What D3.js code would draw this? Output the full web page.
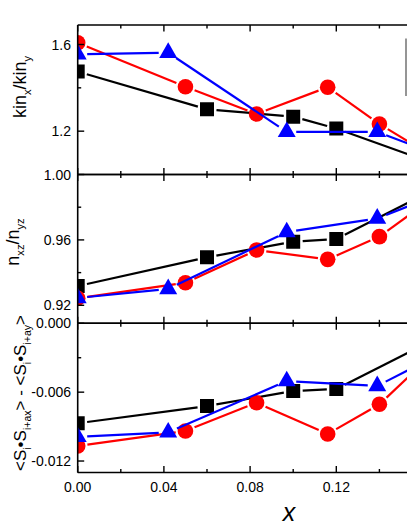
<!DOCTYPE html>
<html>
<head>
<meta charset="utf-8">
<script src="https://cdn.jsdelivr.net/npm/d3@7"></script>
<style>
  html, body { margin: 0; padding: 0; background: #fff; }
  svg { display: block; }
  text { font-family: "Liberation Sans", Arial, sans-serif; fill: #000; }
</style>
</head>
<body>
<svg id="chart" width="407" height="527"></svg>
<script>
// ---------------- data ----------------
const xBlack = [0, 0.06, 0.10, 0.12, 0.16];
const xRed   = [0, 0.05, 0.083, 0.116, 0.14, 0.16];
const xBlue  = [0, 0.042, 0.097, 0.139, 0.16];

const kinBlack = [1.475, 1.301, 1.267, 1.212, 1.070];
const kinRed   = [1.608, 1.405, 1.279, 1.403, 1.233, 1.113];
const kinBlue  = [1.555, 1.562, 1.197, 1.197, 1.118];

const nBlack = [0.9318, 0.9494, 0.9589, 0.9606, 0.9872];
const nRed   = [0.9243, 0.9338, 0.9538, 0.9481, 0.9620, 0.9811];
const nBlue  = [0.9245, 0.9300, 0.9648, 0.9731, 0.9840];

const sBlack = [-0.00871, -0.00721, -0.00590, -0.00572, -0.00193];
const sRed   = [-0.01069, -0.00938, -0.00692, -0.00965, -0.00706, -0.00351];
const sBlue  = [-0.00990, -0.00950, -0.00503, -0.00546, -0.00344];

const xTickMajor = [0, 0.04, 0.08, 0.12];
const xTickMinor = [0.02, 0.06, 0.10, 0.14];
const xTickLabels = ["0.00", "0.04", "0.08", "0.12"];

const kinTickMajor = [1.2, 1.6];
const kinTickMinor = [1.4];
const kinTickLabels = ["1.2", "1.6"];
const nTickMajor = [0.92, 0.96, 1.00];
const nTickMinor = [0.94, 0.98];
const nTickLabels = ["0.92", "0.96", "1.00"];
const sTickMajor = [-0.012, -0.006, 0.000];
const sTickMinor = [-0.009, -0.003];
const sTickLabels = ["-0.012", "-0.006", "0.000"];

// ---------------- layout ----------------
const svg = d3.select("#chart");
const left = 77.7;
const x = d3.scaleLinear().domain([0, 0.2]).range([left, left + 431]);
const rightClip = 420;

const panels = [
  { id: "kin", y0: 25, y1: 174.5, domain: [1.0, 1.69],
    series: [kinBlack, kinRed, kinBlue],
    major: kinTickMajor, minor: kinTickMinor, labels: kinTickLabels },
  { id: "n", y0: 174.5, y1: 323.3, domain: [0.909, 1.0],
    series: [nBlack, nRed, nBlue],
    major: nTickMajor, minor: nTickMinor, labels: nTickLabels },
  { id: "s", y0: 323.3, y1: 472.5, domain: [-0.013, 0],
    series: [sBlack, sRed, sBlue],
    major: sTickMajor, minor: sTickMinor, labels: sTickLabels }
];

const xs = [xBlack, xRed, xBlue];
const colors = ["#000000", "#ff0000", "#0000ff"];
const shapes = [
  { sym: d3.symbolSquare, size: 196, gap: 9.5 },
  { sym: d3.symbolCircle, size: 191, gap: 9.8 },
  { sym: d3.symbolTriangle, size: 140, gap: 9.5 }
];

const defs = svg.append("defs");

panels.forEach((p, pi) => {
  const y = d3.scaleLinear().domain(p.domain).range([p.y1, p.y0]);
  defs.append("clipPath").attr("id", "clip" + pi)
    .append("rect")
    .attr("x", left).attr("y", p.y0)
    .attr("width", rightClip - left).attr("height", p.y1 - p.y0);

  const g = svg.append("g").attr("clip-path", "url(#clip" + pi + ")");

  p.series.forEach((vals, si) => {
    const pts = vals.map((v, i) => [x(xs[si][i]), y(v)]);
    const sg = g.append("g");
    const gap = shapes[si].gap;
    for (let i = 0; i < pts.length - 1; i++) {
      const [ax, ay] = pts[i], [bx, by] = pts[i + 1];
      const dx = bx - ax, dy = by - ay, len = Math.hypot(dx, dy);
      if (len <= 2 * gap) continue;
      const ux = dx / len, uy = dy / len;
      sg.append("line")
        .attr("x1", ax + ux * gap).attr("y1", ay + uy * gap)
        .attr("x2", bx - ux * gap).attr("y2", by - uy * gap)
        .attr("stroke", colors[si]).attr("stroke-width", 2.2);
    }
    sg.selectAll("path.m").data(pts).enter().append("path")
      .attr("class", "m")
      .attr("transform", d => `translate(${d[0]},${d[1]})`)
      .attr("d", d3.symbol().type(shapes[si].sym).size(shapes[si].size))
      .attr("fill", colors[si]);
  });

  const ax = svg.append("g").attr("stroke", "#000").attr("stroke-width", 1.6).attr("fill", "none");
  ax.append("line").attr("x1", left).attr("x2", rightClip).attr("y1", p.y0).attr("y2", p.y0);
  ax.append("line").attr("x1", left).attr("x2", rightClip).attr("y1", p.y1).attr("y2", p.y1);
  ax.append("line").attr("x1", left).attr("x2", left).attr("y1", p.y0).attr("y2", p.y1);

  const tk = svg.append("g").attr("stroke", "#000").attr("stroke-width", 1.4);
  xTickMajor.forEach(t => {
    tk.append("line").attr("x1", x(t)).attr("x2", x(t)).attr("y1", p.y1).attr("y2", p.y1 - 6.5);
    tk.append("line").attr("x1", x(t)).attr("x2", x(t)).attr("y1", p.y0).attr("y2", p.y0 + 6.5);
  });
  xTickMinor.forEach(t => {
    tk.append("line").attr("x1", x(t)).attr("x2", x(t)).attr("y1", p.y1).attr("y2", p.y1 - 3.5);
    tk.append("line").attr("x1", x(t)).attr("x2", x(t)).attr("y1", p.y0).attr("y2", p.y0 + 3.5);
  });
  p.major.forEach(t => {
    tk.append("line").attr("x1", left).attr("x2", left + 6.5).attr("y1", y(t)).attr("y2", y(t));
  });
  p.minor.forEach(t => {
    tk.append("line").attr("x1", left).attr("x2", left + 3.5).attr("y1", y(t)).attr("y2", y(t));
  });
  p.major.forEach((t, i) => {
    svg.append("text").attr("x", 71).attr("y", y(t)).attr("dy", "0.36em")
      .attr("text-anchor", "end").attr("font-size", 14).text(p.labels[i]);
  });
});

xTickMajor.forEach((t, i) => {
  svg.append("text").attr("x", x(t)).attr("y", 491.5)
    .attr("text-anchor", "middle").attr("font-size", 14).text(xTickLabels[i]);
});

svg.append("text").attr("x", 289).attr("y", 521)
  .attr("text-anchor", "middle").attr("font-size", 25).attr("font-style", "italic")
  .text("x");

svg.append("line").attr("x1", 406).attr("x2", 406).attr("y1", 38.5).attr("y2", 96)
  .attr("stroke", "#8a8a8a").attr("stroke-width", 1.8);

function yLabel(cx, cy, size, parts) {
  const t = svg.append("text")
    .attr("transform", `translate(${cx},${cy}) rotate(-90)`)
    .attr("text-anchor", "middle").attr("font-size", size);
  let shifted = false;
  parts.forEach(([s, sub]) => {
    const ts = t.append("tspan").text(s);
    if (sub && !shifted) { ts.attr("dy", size * 0.3).attr("font-size", size * 0.62); shifted = true; }
    else if (!sub && shifted) { ts.attr("dy", -size * 0.3); shifted = false; }
    else if (sub) ts.attr("font-size", size * 0.62);
  });
}
yLabel(26, 87, 18, [["kin"], ["x", 1], ["/kin"], ["y", 1]]);
yLabel(18.5, 242, 18, [["n"], ["xz", 1], ["/n"], ["yz", 1]]);
yLabel(26, 393, 17, [["<S"], ["i", 1], ["\u2022S"], ["i+ax", 1], ["> - <S"], ["i", 1], ["\u2022S"], ["i+ay", 1], [">"]]);
</script>
</body>
</html>
